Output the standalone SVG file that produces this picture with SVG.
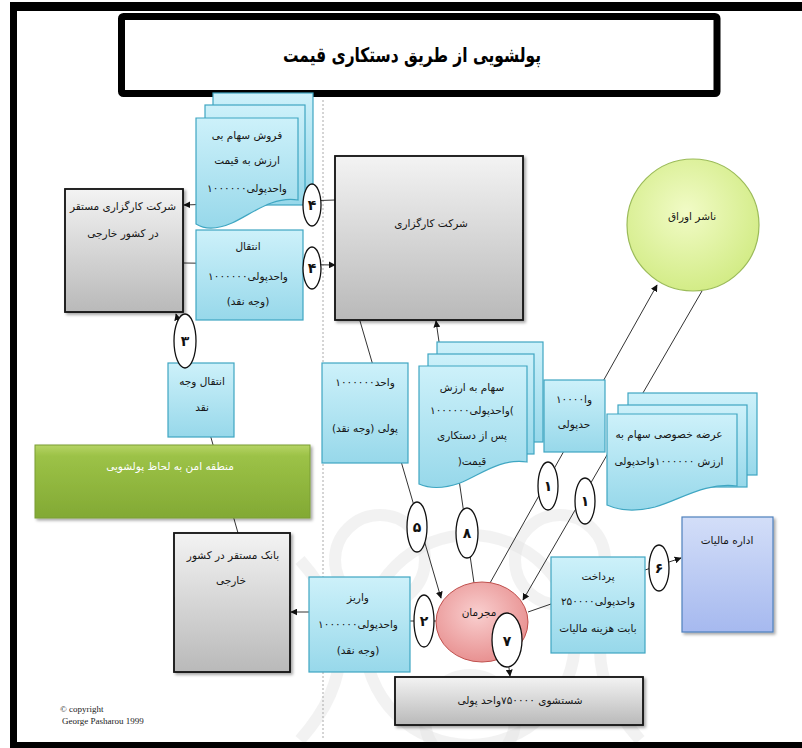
<svg xmlns="http://www.w3.org/2000/svg" width="802" height="748" viewBox="0 0 802 748">
<defs>
<style>
.t{font-family:"DejaVu Sans","Noto Sans",sans-serif;font-size:10.5px;text-anchor:middle;direction:rtl;fill:#151515}
.l{direction:ltr}
.n{font-family:"DejaVu Sans","Noto Sans",sans-serif;font-size:14px;font-weight:bold;text-anchor:middle;fill:#111}
.c{stroke:#333;stroke-width:1;fill:none}
.a{marker-end:url(#ah)}
.blue{fill:url(#gBlue);stroke:#3fa6c2;stroke-width:1.2}
.gray{fill:url(#gGray);stroke:#111;stroke-width:1.8;filter:url(#sh)}
.ov{fill:#fff;stroke:#111;stroke-width:1.3}
.wm{fill:none;stroke:#e2e2e2;stroke-width:12;opacity:.45}
</style>
<linearGradient id="gBlue" x1="0" y1="0" x2="0" y2="1"><stop offset="0" stop-color="#cdf1fa"/><stop offset="1" stop-color="#97d8ea"/></linearGradient>
<linearGradient id="gGray" x1="0" y1="0" x2="0" y2="1"><stop offset="0" stop-color="#f3f3f3"/><stop offset="1" stop-color="#b9b9b9"/></linearGradient>
<linearGradient id="gGreen" x1="0" y1="0" x2="0" y2="1"><stop offset="0" stop-color="#b6d466"/><stop offset="0.15" stop-color="#9cc247"/><stop offset="1" stop-color="#82a934"/></linearGradient>
<linearGradient id="gTax" x1="0" y1="0" x2="0" y2="1"><stop offset="0" stop-color="#d3def8"/><stop offset="1" stop-color="#a6b9ef"/></linearGradient>
<radialGradient id="gPink" cx="0.45" cy="0.4" r="0.6"><stop offset="0" stop-color="#f9cfcf"/><stop offset="1" stop-color="#e89191"/></radialGradient>
<radialGradient id="gLime" cx="0.45" cy="0.4" r="0.6"><stop offset="0" stop-color="#f1fbc6"/><stop offset="1" stop-color="#d3ec87"/></radialGradient>
<filter id="sh" x="-10%" y="-10%" width="125%" height="125%"><feDropShadow dx="2" dy="2" stdDeviation="1.5" flood-opacity="0.35"/></filter>
<marker id="ah" viewBox="0 0 10 10" refX="9" refY="5" markerWidth="7" markerHeight="7" orient="auto" markerUnits="userSpaceOnUse"><path d="M0,0 L10,5 L0,10 Z" fill="#111"/></marker>
</defs>

<rect width="802" height="748" fill="#fff"/>

<!-- watermark -->
<g id="watermark">
<circle class="wm" cx="470" cy="640" r="105"/>
<circle class="wm" cx="380" cy="560" r="45"/>
<circle class="wm" cx="560" cy="560" r="45"/>
<circle class="wm" cx="470" cy="720" r="45"/>
<path class="wm" d="M300,560 Q380,650 300,740 M640,560 Q560,650 640,740"/>
</g>

<!-- frame -->
<g id="frame">
<rect x="10" y="2" width="792" height="9" fill="#000"/>
<rect x="10" y="2" width="7" height="746" fill="#000"/>
<rect x="10" y="742" width="792" height="6" fill="#000"/>
<line x1="323" y1="100" x2="323" y2="740" stroke="#aaa" stroke-width="1" stroke-dasharray="2,2"/>
</g>

<g id="title">
<rect x="121.5" y="16.5" width="595.5" height="77" fill="#fff" stroke="#000" stroke-width="7" rx="2"/>
<text x="412" y="62" textLength="258" lengthAdjust="spacingAndGlyphs" style="font-family:'DejaVu Sans','Noto Sans',sans-serif;font-size:20px;font-weight:bold;text-anchor:middle;direction:rtl">پولشویی از طریق دستکاری قیمت</text>
</g>

<!-- connectors -->
<g id="connectors">
<line class="c a" x1="335" y1="200" x2="184" y2="205"/>
<line class="c a" x1="184" y1="263" x2="335" y2="265"/>
<line class="c a" x1="238" y1="533" x2="176" y2="314"/>
<line class="c a" x1="360" y1="321" x2="441" y2="598"/>
<line class="c a" x1="474" y1="583" x2="436" y2="321"/>
<line class="c a" x1="490" y1="583" x2="657" y2="285"/>
<line class="c a" x1="702" y1="291" x2="523" y2="600"/>
<line class="c" x1="528" y1="612" x2="551" y2="604"/>
<line class="c a" x1="645" y1="570" x2="681" y2="558"/>
<line class="c" x1="436" y1="621" x2="410" y2="621"/>
<line class="c a" x1="309" y1="612" x2="291" y2="612"/>
<line class="c a" x1="508" y1="660" x2="510" y2="676"/>
</g>

<!-- nodes -->
<g id="broker-foreign">
<rect class="gray" x="65" y="189" width="118" height="123"/>
<text class="t" x="123" y="210">شرکت کارگزاری مستقر</text>
<text class="t" x="123" y="237">در کشور خارجی</text>
</g>

<g id="doc-sell">
<rect class="blue" x="213" y="93" width="100" height="100"/>
<rect class="blue" x="205" y="105" width="100" height="100"/>
<path class="blue" d="M196,118 H298 V200 C272,196 252,214 232,223 C216,230 204,229 196,224 Z"/>
<text class="t" x="247" y="139">فروش سهام بی</text>
<text class="t" x="247" y="164">ارزش به قیمت</text>
<text class="t l" x="247" y="192">۱۰۰۰۰۰۰واحدپولی</text>
</g>

<g id="box-transfer">
<rect class="blue" x="196" y="230" width="107" height="90"/>
<text class="t" x="248" y="250">انتقال</text>
<text class="t l" x="248" y="280">۱۰۰۰۰۰۰واحدپولی</text>
<text class="t" x="248" y="305">(وجه نقد)</text>
</g>

<g id="n4a"><ellipse class="ov" cx="312" cy="205" rx="9" ry="21"/><text class="n" x="312" y="210">۴</text></g>
<g id="n4b"><ellipse class="ov" cx="312" cy="268" rx="9" ry="21"/><text class="n" x="312" y="273">۴</text></g>

<g id="broker">
<rect class="gray" x="335" y="156" width="188" height="164"/>
<text class="t" x="431" y="227">شرکت کارگزاری</text>
</g>

<g id="issuer">
<circle cx="693" cy="225" r="66" fill="url(#gLime)" stroke="#9bbb59" stroke-width="1.2"/>
<text class="t" x="692" y="220">ناشر اوراق</text>
</g>

<g id="box-cash-transfer">
<rect class="blue" x="168" y="363" width="66" height="74"/>
<text class="t" x="202" y="385">انتقال وجه</text>
<text class="t" x="202" y="411">نقد</text>
</g>

<g id="n3"><ellipse class="ov" cx="185" cy="341" rx="11" ry="27"/><text class="n" x="185" y="346">۳</text></g>

<g id="safe-zone">
<rect x="35" y="445" width="275" height="73" fill="url(#gGreen)" stroke="#7a9e34" stroke-width="1" filter="url(#sh)"/>
<text class="t" x="170" y="470" style="fill:#fff">منطقه امن به لحاظ پولشویی</text>
</g>

<g id="box-cash5">
<rect class="blue" x="322" y="363" width="86" height="100"/>
<text class="t l" x="365" y="386">۱۰۰۰۰۰۰واحد</text>
<text class="t" x="365" y="432">پولی (وجه نقد)</text>
</g>

<g id="doc-shares">
<rect class="blue" x="437" y="342" width="106" height="100"/>
<rect class="blue" x="428" y="354" width="106" height="100"/>
<path class="blue" d="M419,366 H527 V462 C500,458 480,475 460,483 C440,490 428,488 419,484 Z"/>
<text class="t" x="472" y="391">سهام به ارزش</text>
<text class="t l" x="472" y="414">۱۰۰۰۰۰۰واحدپولی(</text>
<text class="t" x="472" y="439">پس از دستکاری</text>
<text class="t" x="472" y="465">قیمت(</text>
</g>

<g id="box-issuer-pay">
<rect class="blue" x="544" y="380" width="61" height="72"/>
<text class="t l" x="574" y="403">۱۰۰۰۰وا</text>
<text class="t" x="574" y="428">حدپولی</text>
</g>

<g id="doc-offer">
<rect class="blue" x="628" y="393" width="129" height="82"/>
<rect class="blue" x="618" y="405" width="129" height="82"/>
<path class="blue" d="M607,414 H737 V486 C705,482 680,500 655,507 C635,512 618,510 607,505 Z"/>
<text class="t" x="669" y="438">عرضه خصوصی سهام به</text>
<text class="t" x="669" y="465">ارزش ۱۰۰۰۰۰۰واحدپولی</text>
</g>

<g id="n5"><ellipse class="ov" cx="417" cy="527" rx="10" ry="25"/><text class="n" x="417" y="532">۵</text></g>
<g id="n8"><ellipse class="ov" cx="467" cy="533" rx="11" ry="25"/><text class="n" x="467" y="538">۸</text></g>
<g id="n1a"><ellipse class="ov" cx="548" cy="486" rx="10" ry="24"/><text class="n" x="548" y="491">۱</text></g>
<g id="n1b"><ellipse class="ov" cx="585" cy="501" rx="10" ry="23"/><text class="n" x="585" y="506">۱</text></g>

<g id="tax-office">
<rect x="682" y="517" width="91" height="115" fill="url(#gTax)" stroke="#4f81bd" stroke-width="1.2" filter="url(#sh)"/>
<text class="t" x="727" y="544">اداره مالیات</text>
</g>

<g id="box-tax-pay">
<rect class="blue" x="551" y="557" width="94" height="96"/>
<text class="t" x="598" y="580">پرداخت</text>
<text class="t l" x="598" y="605">۲۵۰۰۰۰واحدپولی</text>
<text class="t" x="598" y="632">بابت هزینه مالیات</text>
</g>

<g id="n6"><ellipse class="ov" cx="659" cy="568" rx="10" ry="23"/><text class="n" x="659" y="573">۶</text></g>

<g id="criminals">
<ellipse cx="482" cy="622" rx="46" ry="40" fill="url(#gPink)" stroke="#c0504d" stroke-width="1"/>
<text class="t" x="479" y="616">مجرمان</text>
</g>

<g id="n7"><ellipse class="ov" cx="507" cy="640" rx="15" ry="27"/><text class="n" x="507" y="646">۷</text></g>
<g id="n2"><ellipse class="ov" cx="424" cy="621" rx="10" ry="26"/><text class="n" x="424" y="626">۲</text></g>

<g id="box-deposit">
<rect class="blue" x="309" y="577" width="101" height="95"/>
<text class="t" x="358" y="601">واریز</text>
<text class="t l" x="358" y="628">۱۰۰۰۰۰۰واحدپولی</text>
<text class="t" x="358" y="654">(وجه نقد)</text>
</g>

<g id="bank-foreign">
<rect class="gray" x="174" y="533" width="116" height="139"/>
<text class="t" x="233" y="559">بانک مستقر در کشور</text>
<text class="t" x="231" y="584">خارجی</text>
</g>

<g id="laundered">
<rect class="gray" x="395" y="677" width="248" height="48"/>
<text class="t" x="520" y="704">شستشوی ۷۵۰۰۰۰واحد پولی</text>
</g>

<g id="copyright">
<text x="60" y="712" style="font-family:'Liberation Serif',serif;font-size:9px;fill:#222">© copyright</text>
<text x="62" y="724" style="font-family:'Liberation Serif',serif;font-size:9px;fill:#222">George Pasharou 1999</text>
</g>
</svg>
